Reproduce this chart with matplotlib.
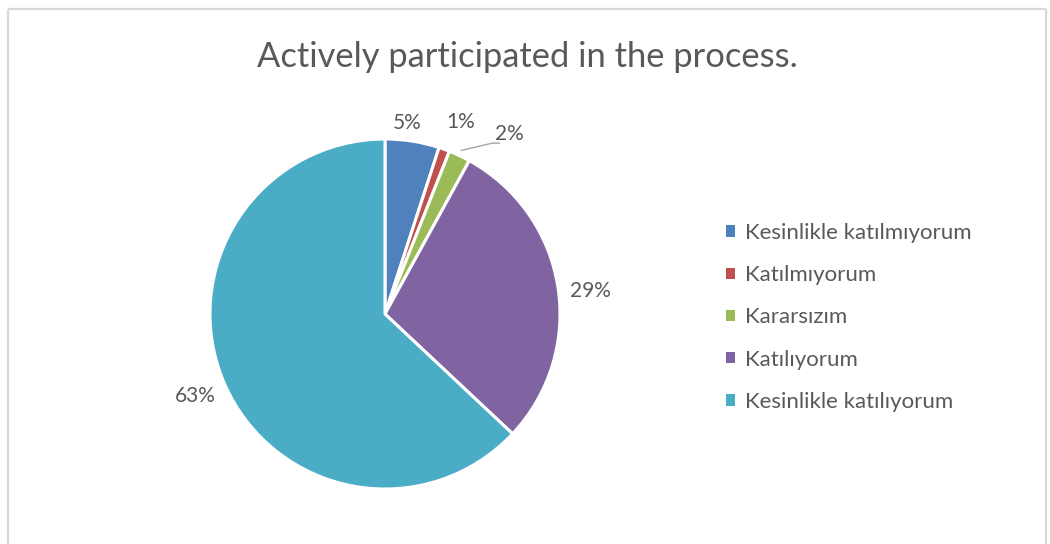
import numpy as np
import matplotlib
matplotlib.use("Agg")
import matplotlib.pyplot as plt
from matplotlib.lines import Line2D
from matplotlib.patches import Patch

# Survey answers and their shares (percent)
categories = ["Kesinlikle katılmıyorum", "Katılmıyorum", "Kararsızım",
              "Katılıyorum", "Kesinlikle katılıyorum"]
shares = [5, 1, 2, 29, 63]
title = "Actively participated in the process."

colors = ["#4F81BD", "#C0504D", "#9BBB59", "#8064A2", "#4BACC6"]
text_color = "#595959"
font = "Lato"

W, H = 1050, 544
fig = plt.figure(figsize=(W / 100, H / 100), dpi=100)
fig.patch.set_facecolor("white")

# chart frame (open at the bottom edge of the image)
frame = dict(color="#d9d9d9", lw=1.6, transform=fig.transFigure, solid_capstyle="butt")
xl, xr, yt = 8 / W, 1046 / W, 1 - 9 / H
fig.add_artist(Line2D([xl, xl], [-0.01, yt], **frame))
fig.add_artist(Line2D([xl, xr], [yt, yt], **frame))
fig.add_artist(Line2D([xr, xr], [-0.01, yt], **frame))

fig.text(527 / W, 1 - 57 / H, title, ha="center", va="center",
         fontsize=24.8, color=text_color, family=font)

# pie axes: centre (385, 314) px, radius 175 px
cx, cy, r = 385, 314, 175
ax = fig.add_axes([(cx - r) / W, (H - cy - r) / H, 2 * r / W, 2 * r / H])

wedges, _ = ax.pie(shares, colors=colors, startangle=90, counterclock=False,
                   radius=1.0, wedgeprops=dict(edgecolor="white", linewidth=2.2))
ax.set_xlim(-1, 1)
ax.set_ylim(-1, 1)
ax.set_aspect("equal")
ax.axis("off")

# data labels placed outside the wedges
label_radius = [1.10, 1.18, 1.25, 1.18, 1.18]
angle_shift = [2.5, -1.8, -9.6, -2.6, 0.0]   # degrees, counter-clockwise
for w, v, rad, sh in zip(wedges, shares, label_radius, angle_shift):
    mid = np.deg2rad((w.theta1 + w.theta2) / 2 + sh)
    x, y = rad * np.cos(mid), rad * np.sin(mid)
    ax.text(x, y, f"{v}%", ha="center", va="center", fontsize=15,
            color=text_color, family=font, clip_on=False)
    if v == 2:
        # leader line from the thin wedge to its label
        mid0 = np.deg2rad((w.theta1 + w.theta2) / 2)
        x0, y0 = 1.0 * np.cos(mid0), 1.0 * np.sin(mid0)
        ax.plot([x0 + 0.01, x - 0.10, x - 0.06], [y0 + 0.03, y - 0.05, y - 0.05],
                color="#a6a6a6", lw=1.0, clip_on=False)

handles = [Patch(facecolor=c, edgecolor="none") for c in colors]
fig.legend(handles, categories, loc="upper left",
           bbox_to_anchor=(726 / W, 1 - 223 / H), frameon=False,
           prop=dict(family=font, size=16), labelcolor=text_color,
           handlelength=0.4, handleheight=0.4, handletextpad=0.45,
           labelspacing=1.0, borderpad=0, borderaxespad=0)

fig.savefig("out.png", dpi=100, facecolor="white")
